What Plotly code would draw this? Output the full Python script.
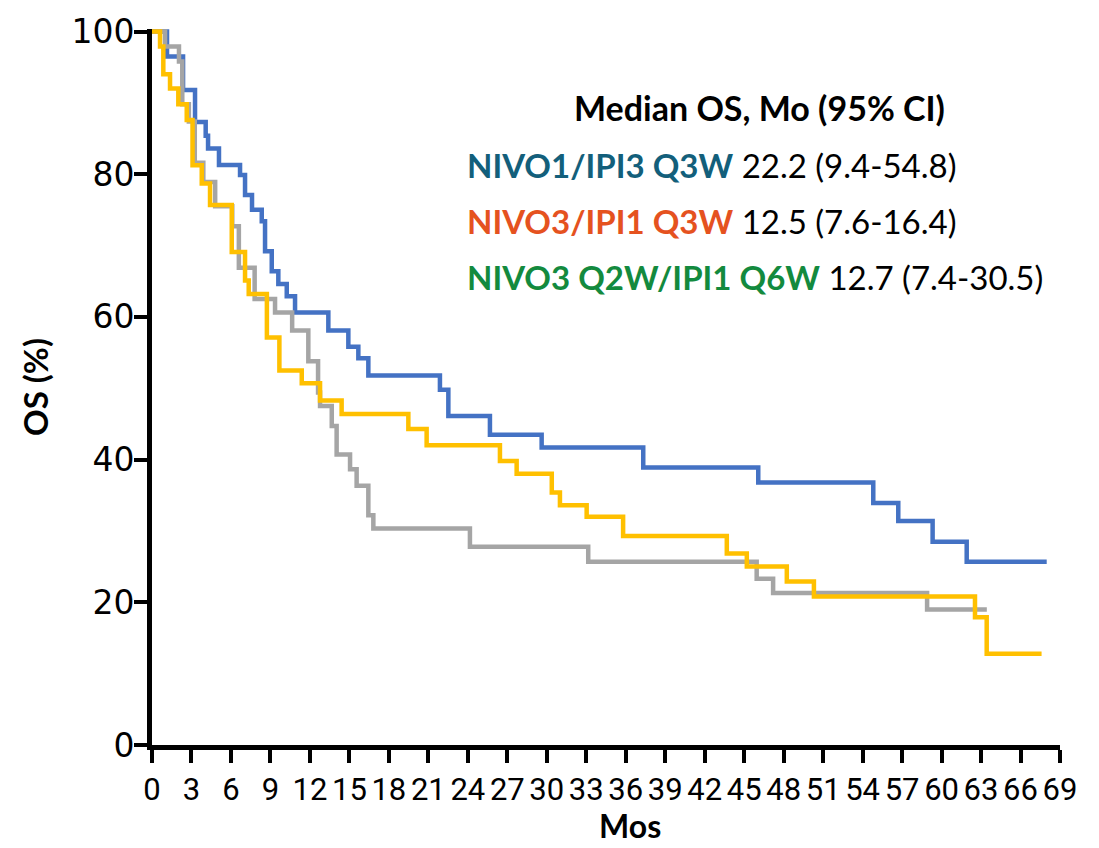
import plotly.graph_objects as go

# Kaplan-Meier overall survival by dosing arm (months, % alive)
months_nivo1_ipi3 = [0, 1.14, 2.36, 3.27, 4.08, 4.26, 5.09, 6.69, 7.07, 7.6, 8.34, 8.59, 9.10,
                     9.60, 10.24, 10.87, 13.40, 14.92, 15.68, 16.44, 21.88, 22.52, 25.68, 29.61,
                     37.33, 46.07, 54.81, 56.71, 59.32, 61.91, 67.99]
os_nivo1_ipi3 = [100, 96.5, 91.8, 87.3, 85.4, 83.6, 81.3, 79.9, 77.1, 75.0, 73.4, 69.2, 66.4,
                 64.6, 62.9, 60.6, 58.1, 55.8, 54.2, 51.8, 49.8, 46.1, 43.5, 41.7,
                 38.9, 36.8, 33.9, 31.4, 28.5, 25.7, 25.7]

months_nivo3_ipi1 = [0, 0.61, 0.86, 1.37, 2.0, 2.64, 3.08, 3.78, 4.41, 6.06, 7.07, 7.35, 8.73,
                     9.68, 11.38, 12.77, 14.41, 19.48, 20.87, 26.44, 27.71, 30.38, 31.0, 33.03,
                     35.8, 43.68, 45.2, 48.24, 50.3, 62.54, 63.43, 67.6]
os_nivo3_ipi1 = [100, 97.9, 94.0, 92.0, 89.8, 87.6, 81.25, 78.7, 75.7, 69.1, 65.1, 63.2, 57.1,
                 52.5, 50.7, 48.3, 46.4, 44.3, 42.0, 39.8, 38.0, 35.4, 33.6, 32.0,
                 29.3, 26.85, 25.0, 22.9, 20.8, 17.9, 12.8, 12.8]

months_nivo3_q2w = [0, 0.99, 2.05, 2.3, 2.8, 3.25, 3.9, 4.8, 6.1, 6.6, 7.8, 9.35, 10.65, 11.88,
                    12.62, 12.77, 13.66, 14.03, 15.05, 15.55, 16.44, 16.82, 24.16, 33.15, 45.95,
                    47.2, 58.9, 63.44]
os_nivo3_q2w = [100, 97.9, 95.8, 89.8, 87.4, 81.6, 78.9, 75.5, 72.7, 66.9, 62.5, 60.6, 58.1, 53.8,
                49.4, 47.5, 44.7, 40.7, 38.65, 36.35, 32.2, 30.35, 27.8, 25.7, 23.3,
                21.3, 19.0, 19.0]

x_ticks = list(range(0, 70, 3))
y_ticks = [0, 20, 40, 60, 80, 100]

legend_head = "Median OS, Mo (95% CI)"
arm_names = ["NIVO1/IPI3 Q3W", "NIVO3/IPI1 Q3W", "NIVO3 Q2W/IPI1 Q6W"]
arm_medians = ["22.2 (9.4-54.8)", "12.5 (7.6-16.4)", "12.7 (7.4-30.5)"]
arm_text_colors = ["#135F7B", "#E5521F", "#138A3E"]

fig = go.Figure()

curves = [
    (months_nivo1_ipi3, os_nivo1_ipi3, "#4472C4"),
    (months_nivo3_q2w, os_nivo3_q2w, "#A5A5A5"),
    (months_nivo3_ipi1, os_nivo3_ipi1, "#FFC000"),
]
for xs, ys, col in curves:
    fig.add_trace(go.Scatter(x=xs, y=ys, mode="lines", line=dict(color=col, width=4.5, shape="hv"),
                             showlegend=False, hoverinfo="skip"))

# plot area in pixels: x 152..1060, y 25..745
L, R, T, B = 152, 1060, 25, 745
W, H = R - L, B - T

def px_x(p):
    return (p - L) / W

def px_y(p):
    return (B - p) / H

label_font = "Lato, Calibri, Carlito, sans-serif"

annotations = [
    dict(x=px_x(572), y=px_y(104), xref="paper", yref="paper", xanchor="left", yanchor="middle",
         text="<b>" + legend_head + "</b>", showarrow=False,
         font=dict(family=label_font, size=34, color="black")),
]
row_y = [162, 218, 274]
for name, med, col, py in zip(arm_names, arm_medians, arm_text_colors, row_y):
    annotations.append(dict(
        x=px_x(465), y=px_y(py), xref="paper", yref="paper", xanchor="left", yanchor="middle",
        text=f"<b><span style='color:{col}'>{name}</span></b> {med}", showarrow=False,
        font=dict(family=label_font, size=33, color="black")))

annotations.append(dict(x=px_x(630), y=px_y(826), xref="paper", yref="paper",
                        xanchor="center", yanchor="middle", text="<b>Mos</b>", showarrow=False,
                        font=dict(family=label_font, size=32, color="black")))

fig.update_layout(
    width=1099, height=848,
    margin=dict(l=L, r=1099 - R, t=T, b=848 - B, pad=0),
    paper_bgcolor="white", plot_bgcolor="white",
    annotations=annotations,
    xaxis=dict(range=[0, 69], tickvals=x_ticks, ticktext=[str(v) for v in x_ticks], tickangle=0,
               showgrid=False, zeroline=False, showline=True, linecolor="black", linewidth=5,
               ticks="outside", ticklen=13, tickwidth=4, tickcolor="black",
               tickfont=dict(family="Roboto, sans-serif", size=31, color="black")),
    yaxis=dict(range=[0, 100.35], tickvals=y_ticks, ticktext=[str(v) for v in y_ticks],
               showgrid=False, zeroline=False, showline=True, linecolor="black", linewidth=5,
               ticks="outside", ticklen=13, tickwidth=4, tickcolor="black",
               ticklabelstandoff=-7,
               tickfont=dict(family="DejaVu Sans, Verdana, sans-serif", size=33, color="black"),
               title=dict(text="<b>OS (%)</b>", standoff=14,
                          font=dict(family=label_font, size=33, color="black"))),
)

fig.write_html("out.html")
